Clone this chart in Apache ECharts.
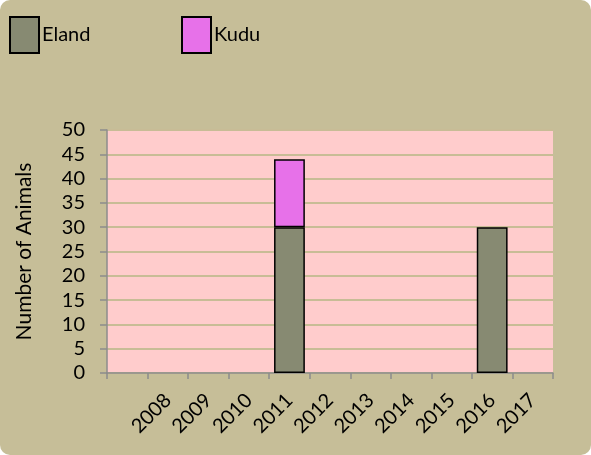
<!DOCTYPE html>
<html><head><meta charset="utf-8">
<script src="https://cdn.jsdelivr.net/npm/echarts@6/dist/echarts.min.js"></script>
<style>
html,body{margin:0;padding:0;background:#ffffff;}
#c{width:591px;height:455px;background:#C6BE98;border-radius:10px;overflow:hidden;}
</style></head><body>
<div id="c"></div>
<script>
const categories = ['', '2008', '2009', '2010', '2011', '2012', '2013', '2014', '2015', '2016', '2017'];
const elandValues = ['-', '-', '-', '-', 30, '-', '-', '-', '-', 30, '-'];
const kuduValues = ['-', '-', '-', '-', 14, '-', '-', '-', '-', '-', '-'];
const yTicks = [0, 5, 10, 15, 20, 25, 30, 35, 40, 45, 50];

const FONT = 'Lato';
const chart = echarts.init(document.getElementById('c'), null, {renderer: 'canvas'});
const legendCommon = {
  top: 11, itemWidth: 29, itemHeight: 36, itemGap: 0, icon: 'rect',
  textStyle: {fontFamily: FONT, fontSize: 20, color: '#000', padding: [0,0,0,-2]},
  itemStyle: {borderColor: '#000', borderWidth: 2}, selectedMode: false
};
chart.setOption({
  backgroundColor: 'transparent',
  animation: false,
  legend: [
    Object.assign({}, legendCommon, {left: 4, data: ['Eland']}),
    Object.assign({}, legendCommon, {left: 176, data: ['Kudu']})
  ],
  grid: {left: 107, right: 38, top: 130, bottom: 82, show: true, backgroundColor: '#FFCCCC', borderWidth: 0},
  xAxis: {
    type: 'category', data: categories,
    axisLine: {lineStyle: {color: '#8C8C8C', width: 1.5}},
    axisTick: {show: true, length: 6, interval: 0, lineStyle: {color: '#8C8C8C', width: 1.5}},
    axisLabel: {interval: 0, rotate: 45, fontFamily: FONT, fontSize: 20, color: '#000', margin: 24}
  },
  yAxis: {
    type: 'value', min: yTicks[0], max: yTicks[yTicks.length-1], interval: 5,
    name: 'Number of Animals', nameLocation: 'middle', nameGap: 72,
    nameTextStyle: {fontFamily: FONT, fontSize: 21, color: '#000'},
    axisLine: {show: true, lineStyle: {color: '#8C8C8C', width: 1.5}},
    axisTick: {show: true, length: 7, lineStyle: {color: '#8C8C8C', width: 1.5}},
    axisLabel: {fontFamily: FONT, fontSize: 20, color: '#000', margin: 22},
    splitLine: {lineStyle: {color: '#C8BC96', width: 2}}
  },
  series: [
    {name: 'Eland', type: 'bar', stack: 'a', data: elandValues, barCategoryGap: '24%',
     itemStyle: {color: '#878A72', borderColor: '#000', borderWidth: 1.5}},
    {name: 'Kudu', type: 'bar', stack: 'a', data: kuduValues, barCategoryGap: '24%',
     itemStyle: {color: '#E771E9', borderColor: '#000', borderWidth: 1.5}}
  ]
});
</script></body></html>
